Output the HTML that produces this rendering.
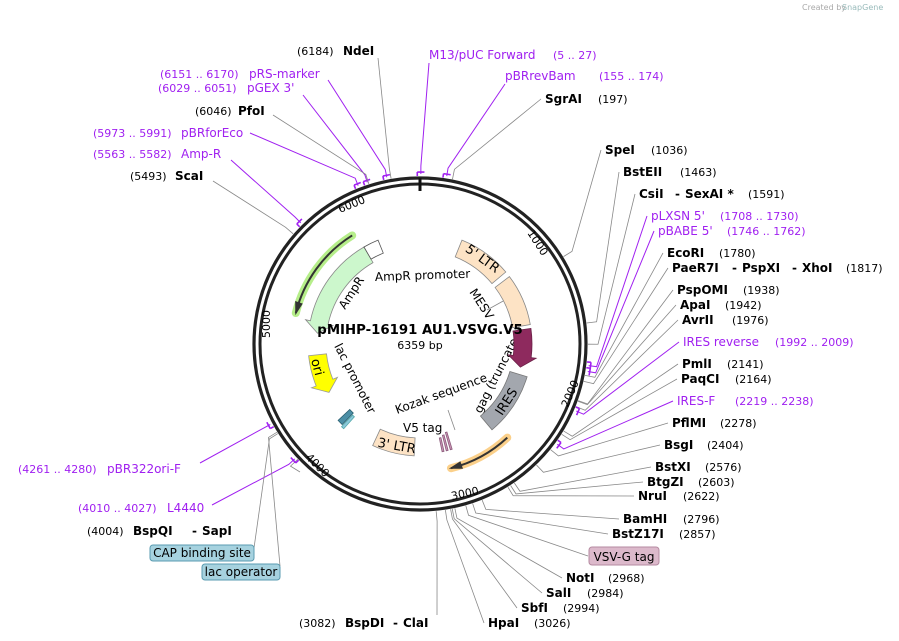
<!DOCTYPE html>
<html><head><meta charset="utf-8">
<style>
html,body{margin:0;padding:0;background:#fff;}
svg{display:block;font-family:"DejaVu Sans","Liberation Sans",sans-serif;}
.b{font-weight:bold;font-size:12px;fill:#000}
.n{font-size:11px;fill:#000}
.p{font-size:12px;fill:#a020f0}
.pn{font-size:11px;fill:#a020f0}
</style></head><body>
<svg id="s" width="899" height="641" viewBox="0 0 899 641" xmlns="http://www.w3.org/2000/svg">
<text x="802" y="10" font-size="8" fill="#aaa">Created by</text><text x="842" y="10" font-size="8" fill="#9bb">SnapGene</text>
<g id="lines"></g>
<g font-size="12" fill="#000">
<text transform="translate(375,281) rotate(-2)">AmpR promoter</text>
<text transform="translate(345,310) rotate(-57)">AmpR</text>
<text transform="translate(469,292) rotate(57)">MESV</text>
<line x1="487" y1="310" x2="505" y2="300" stroke="#888" stroke-width="0.8"/>
<text transform="translate(481,414) rotate(-63)">gag (truncated)</text>
<text transform="translate(334,346) rotate(63)">lac promoter</text>
<text transform="translate(397,414) rotate(-20)">Kozak sequence</text>
<text x="403" y="432">V5 tag</text>
<line x1="448" y1="410" x2="455" y2="430" stroke="#888" stroke-width="0.8"/>
</g>
<g id="feat"></g>
<circle cx="420" cy="344" r="166" fill="none" stroke="#222" stroke-width="3.2"/>
<circle cx="420" cy="344" r="160" fill="none" stroke="#222" stroke-width="3"/>
<line x1="420" y1="178" x2="420" y2="191" stroke="#111" stroke-width="3"/>
<g font-size="11" fill="#000">
<text transform="translate(527,233) rotate(57)">1000</text>
<text transform="translate(568,408) rotate(-67)">2000</text>
<text transform="translate(452,500) rotate(-12)">3000</text>
<text transform="translate(305,458) rotate(45)">4000</text>
<text transform="translate(270,338) rotate(-90)">5000</text>
<text transform="translate(340,213) rotate(-22)">6000</text>
</g>
<text x="420" y="334" text-anchor="middle" font-weight="bold" font-size="13.3">pMIHP-16191 AU1.VSVG.V5</text>
<text x="420" y="349" text-anchor="middle" font-size="11">6359 bp</text>
<g id="labels"></g>
</svg>
<script>
var cx=420,cy=344,NS="http://www.w3.org/2000/svg",s=document.getElementById('s');
function P(r,a){a=a*Math.PI/180;return [cx+r*Math.sin(a),cy-r*Math.cos(a)];}
function el(g,tag,at,txt){var e=document.createElementNS(NS,tag);for(var k in at)e.setAttribute(k,at[k]);if(txt)e.textContent=txt;document.getElementById(g).appendChild(e);return e;}
function sector(r1,r2,a1,a2,head,fill,stroke){
 var h=6,b1=a1,b2=a2;if(head==1)b2=a2-h;if(head==-1)b1=a1+h;
 var p=P(r2,b1),d="M"+p;var q=P(r2,b2);d+=" A"+r2+","+r2+" 0 0 1 "+q;
 if(head==1){d+=" L"+P(r2+5,b2)+" L"+P((r1+r2)/2,a2)+" L"+P(r1-5,b2);}
 q=P(r1,b2);d+=" L"+q;q=P(r1,b1);d+=" A"+r1+","+r1+" 0 0 0 "+q;
 if(head==-1){d+=" L"+P(r1-5,b1)+" L"+P((r1+r2)/2,a1)+" L"+P(r2+5,b1);}
 d+="Z";el('feat','path',{d:d,fill:fill,stroke:stroke||'#888','stroke-width':0.8});}
function hl(r,a1,a2,col,dir){var p=P(r,a1),q=P(r,a2);var d="M"+p+" A"+r+","+r+" 0 0 1 "+q;
 el('feat','path',{d:d,fill:'none',stroke:col,'stroke-width':8,'stroke-linecap':'round'});
 el('feat','path',{d:d,fill:'none',stroke:'#333','stroke-width':2});
 var t=dir==1?a2:a1,u=dir==1?a2-5:a1+5;var tip=P(r,t+(dir==1?1:-1));
 el('feat','path',{d:"M"+P(r-4,u)+" L"+tip+" L"+P(r+4,u)+"Z",fill:'#333'});}
sector(94,112,22,50,0,'#fde3c5');
sector(94,112,53,80,0,'#fde3c5');
sector(94,112,82,103,1,'#8e2a5e','#6a1f46');
sector(94,112,107,140,0,'#a3a7ae','#777');
sector(94,112,183,205,0,'#fde3c5');
sector(94,112,276,330,-1,'#ccf7cc');
sector(98,112,330,338,0,'#fff','#555');
sector(94,112,242,264,-1,'#ffff00','#999');
hl(128,137,166,'#fbd08a',1);
hl(128,284,328,'#b6ee8a',-1);
for(var i=0;i<3;i++){sector(92+i*2,110,163+i*2.2,164+i*2.2,0,'#c993b4','#8a5a7a');}
sector(96,112,224,227,0,'#4c8fa6','#2b5f70');sector(98,114,222,223.5,0,'#8cc8dc','#5aa');
el('feat','text',{transform:'translate(480,262) rotate(36)','font-size':13,'text-anchor':'middle'},"5' LTR");
el('feat','text',{transform:'translate(396,450) rotate(10)','font-size':13,'text-anchor':'middle'},"3' LTR");
el('feat','text',{transform:'translate(510,404) rotate(-57)','font-size':13,'text-anchor':'middle'},"IRES");
el('feat','text',{transform:'translate(311,360) rotate(75)','font-size':13},"ori");
var L=[
[6184,297,55,[["(6184)","n"],["NdeI","b",46]],"t",378,58],
[5,429,59,[["M13/pUC Forward","p"],["(5 .. 27)","pn",124]],"t",429,63],
[160,505,80,[["pBRrevBam","p"],["(155 .. 174)","pn",94]],"t",505,84],
[197,545,103,[["SgrAI","b"],["(197)","n",53]],"r"],
[6160,160,78,[["(6151 .. 6170)","pn"],["pRS-marker","p",89]],"l",328,80],
[6040,158,92,[["(6029 .. 6051)","pn"],["pGEX 3'","p",89]],"l",303,95],
[6046,195,115,[["(6046)","n"],["PfoI","b",43]],"l",273,115],
[5982,93,137,[["(5973 .. 5991)","pn"],["pBRforEco","p",88]],"l",250,133],
[5572,93,158,[["(5563 .. 5582)","pn"],["Amp-R","p",88]],"l",231,160],
[5493,130,180,[["(5493)","n"],["ScaI","b",45]],"l",213,181],
[1036,605,154,[["SpeI","b"],["(1036)","n",46]],"r"],
[1463,623,176,[["BstEII","b"],["(1463)","n",57]],"r"],
[1591,639,198,[["CsiI","b"],["-","b",36],["SexAI *","b",46],["(1591)","n",109]],"r"],
[1719,651,220,[["pLXSN 5'","p"],["(1708 .. 1730)","pn",69]],"r"],
[1754,658,235,[["pBABE 5'","p"],["(1746 .. 1762)","pn",69]],"r"],
[1780,667,257,[["EcoRI","b"],["(1780)","n",52]],"r"],
[1817,672,272,[["PaeR7I","b"],["-","b",60],["PspXI","b",70],["-","b",120],["XhoI","b",130],["(1817)","n",174]],"r"],
[1938,677,294,[["PspOMI","b"],["(1938)","n",66]],"r"],
[1942,680,309,[["ApaI","b"],["(1942)","n",45]],"r"],
[1976,682,324,[["AvrII","b"],["(1976)","n",50]],"r"],
[2000,683,346,[["IRES reverse","p"],["(1992 .. 2009)","pn",92]],"r"],
[2141,682,368,[["PmlI","b"],["(2141)","n",45]],"r"],
[2164,681,383,[["PaqCI","b"],["(2164)","n",54]],"r"],
[2228,677,405,[["IRES-F","p"],["(2219 .. 2238)","pn",58]],"r"],
[2278,672,427,[["PflMI","b"],["(2278)","n",48]],"r"],
[2404,664,449,[["BsgI","b"],["(2404)","n",43]],"r"],
[2576,655,471,[["BstXI","b"],["(2576)","n",50]],"r"],
[2603,647,486,[["BtgZI","b"],["(2603)","n",51]],"r"],
[2622,638,500,[["NruI","b"],["(2622)","n",45]],"r"],
[2796,623,523,[["BamHI","b"],["(2796)","n",60]],"r"],
[2857,612,538,[["BstZ17I","b"],["(2857)","n",67]],"r"],
[2900,0,0,[],"x",588,556],
[2968,566,582,[["NotI","b"],["(2968)","n",42]],"r"],
[2984,546,597,[["SalI","b"],["(2984)","n",41]],"r"],
[2994,521,612,[["SbfI","b"],["(2994)","n",42]],"r"],
[3026,488,627,[["HpaI","b"],["(3026)","n",46]],"r"],
[3082,299,627,[["(3082)","n"],["BspDI","b",46],["-","b",94],["ClaI","b",104]],"x",437,615],
[4004,87,535,[["(4004)","n"],["BspQI","b",46],["-","b",105],["SapI","b",115]],"l",300,472],
[4270,18,473,[["(4261 .. 4280)","pn"],["pBR322ori-F","p",89]],"l",200,463],
[4018,78,512,[["(4010 .. 4027)","pn"],["L4440","p",89]],"l",212,505],
[4200,0,0,[],"x",254,548],
[4210,0,0,[],"x",280,566]
];
L.forEach(function(o){
 var a=o[0]/6359*360,pur=o[3].length&&o[3][0][1][0]=='p';
 var ax,ay;
 if(o.length>5){ax=o[5];ay=o[6];}
 else if(o[4]=="r"){ax=o[1]-4;ay=o[2]-4;}
 var p=P(pur?170:168,a),q=P(178,a);
 el('lines','polyline',{points:p+" "+q+" "+ax+","+ay,fill:'none',stroke:pur?'#a020f0':'#888','stroke-width':pur?1:0.8});
 if(pur){el('lines','path',{d:"M"+P(172,a-1.2)+" L"+P(172,a+1.2)+" M"+P(172,a-1.2)+" L"+P(168,a-1.2),stroke:'#a020f0','stroke-width':1.6,fill:'none'});}
 o[3].forEach(function(t){el('labels','text',{x:o[1]+(t[2]||0),y:o[2],'class':t[1]},t[0]);});
});
function box(x,y,w,h,fill,st,t){el('labels','rect',{x:x,y:y,width:w,height:h,rx:3,fill:fill,stroke:st,'stroke-width':1});el('labels','text',{x:x+w/2,y:y+h-4,'text-anchor':'middle','font-size':12},t);}
box(589,547,70,18,'#dcb9cb','#b58aa0','VSV-G tag');
box(150,545,104,16,'#a6d2df','#5a9bb0','CAP binding site');
box(202,564,78,16,'#a6d2df','#5a9bb0','lac operator');
</script>
</body></html>
